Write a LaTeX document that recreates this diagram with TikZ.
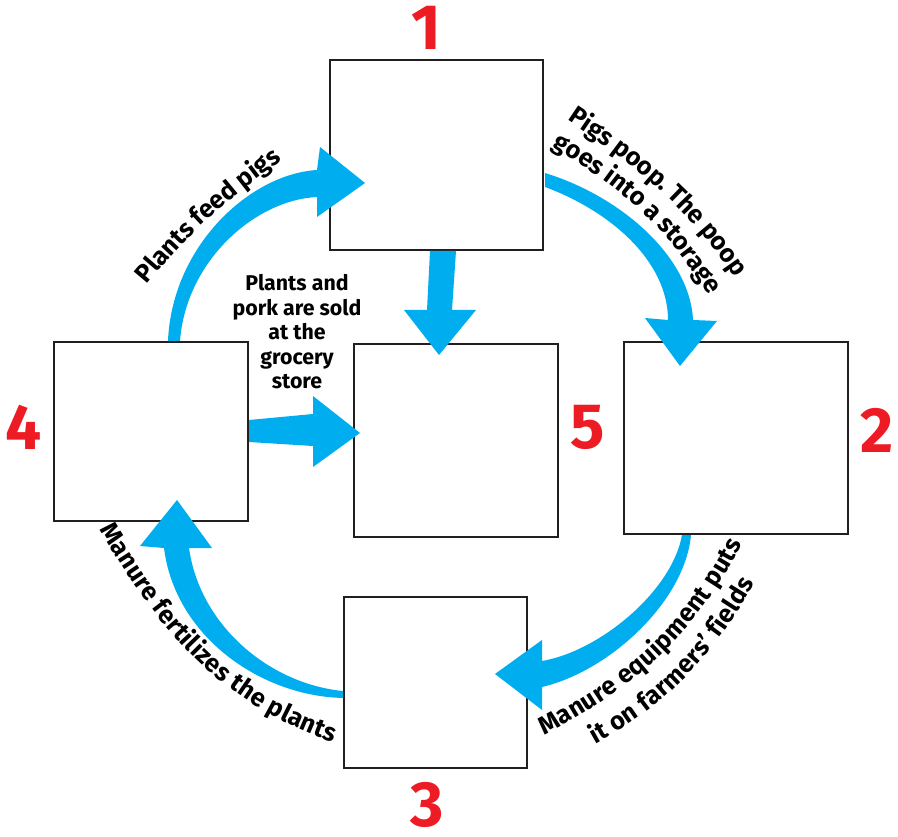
\documentclass[tikz,border=0pt]{standalone}
\usepackage{fontspec}
\setmainfont{Fira Sans}
\usetikzlibrary{decorations.text}
\definecolor{arrowblue}{HTML}{00AEEF}
\definecolor{numred}{HTML}{ED1C24}
\definecolor{boxline}{HTML}{231F20}
\newcommand\lblfont{\fontsize{16}{18.4}\selectfont\bfseries}
\newcommand\arcfont{\fontsize{19}{22}\selectfont\bfseries}
\begin{document}
\begin{tikzpicture}[x=0.75pt,y=0.75pt,
  box/.style={draw=boxline, line width=1.1pt, fill=white, inner sep=0pt},
  flow/.style={fill=arrowblue, draw=none},
  num/.style={text=numred, font=\fontsize{48}{48}\selectfont\bfseries, inner sep=0pt},
  lbl/.style={font=\lblfont, align=center, inner sep=0pt},
  curved/.style={decorate, decoration={text along path, text={|\arcfont|#1}, text align=center, raise=-5pt}}]
\useasboundingbox (0,0) rectangle (898,836);
% boxes
\node[box, minimum width=159.75pt, minimum height=142.5pt] (b1) at (436.5,681) {};
\node[box, minimum width=153pt, minimum height=144.75pt] (b5) at (456,395.5) {};
\node[box, minimum width=168pt, minimum height=144pt] (b2) at (736,398) {};
\node[box, minimum width=145.5pt, minimum height=134.25pt] (b4) at (151,404.5) {};
\node[box, minimum width=137.25pt, minimum height=128.25pt] (b3) at (435.5,153.5) {};
% arrows
% 4 -> 1
\fill[flow] (168,495) .. controls (172,590) and (250,662) .. (317,666)
  -- (320,689) -- (365,653) -- (317,619) -- (317,639)
  .. controls (255,636) and (186,575) .. (180,495) -- cycle;
% 1 -> 2
\fill[flow] (545,663) .. controls (620,640) and (690,580) .. (693,516)
  -- (717,515) -- (680,470) -- (645,518) -- (668,516)
  .. controls (668,575) and (610,625) .. (545,649) -- cycle;
% 1 -> 5
\fill[flow] (430,585) -- (427,526) -- (404,526) -- (439,481) -- (476,526) -- (452,526) -- (456,585) -- cycle;
% 4 -> 5
\fill[flow] (249,416) -- (313,422) -- (313,440) -- (360,403) -- (313,369) -- (313,390) -- (249,394) -- cycle;
% 2 -> 3
\fill[flow] (682,301) .. controls (672,245) and (600,185) .. (542,175)
  -- (542,196) -- (495,162) -- (542,126) -- (542,149)
  .. controls (610,165) and (685,235) .. (691,301) -- cycle;
% 3 -> 4
\fill[flow] (343,138) .. controls (260,140) and (175,200) .. (164,288)
  -- (140,290) -- (177,336) -- (212,288) -- (189,288)
  .. controls (200,210) and (270,152) .. (343,145) -- cycle;
% numbers
\node[num] (n1) at (426,808) {1};
\node[num] (n2) at (877,406) {2};
\node[num] (n3) at (427,31) {3};
\node[num] (n4) at (24,409) {4};
\node[num] (n5) at (588,409) {5};
% labels
\node[lbl] (l5) at (297,504) {Plants and\\pork are sold\\at the\\grocery\\store};
\path[curved={Plants feed pigs}] (124,533.8) to[out=52,in=215] (301,697.5);
\path[curved={Pigs poop. The poop}] (546,738.1) to[out=-33,in=122] (756.6,537.6);
\path[curved={goes into a storage}] (527.6,710.9) to[out=-29,in=118] (730.3,516.3);
\path[curved={Manure equipment puts}] (522,96.3) to[out=27,in=244] (746.3,314.3);
\path[curved={it on farmers' fields}] (563.7,82.7) to[out=26,in=242] (764.3,283.7);
\path[curved={Manure fertilizes the plants}] (96,325.5) to[out=-60,in=163] (352.7,94.5);
\end{tikzpicture}
\end{document}
